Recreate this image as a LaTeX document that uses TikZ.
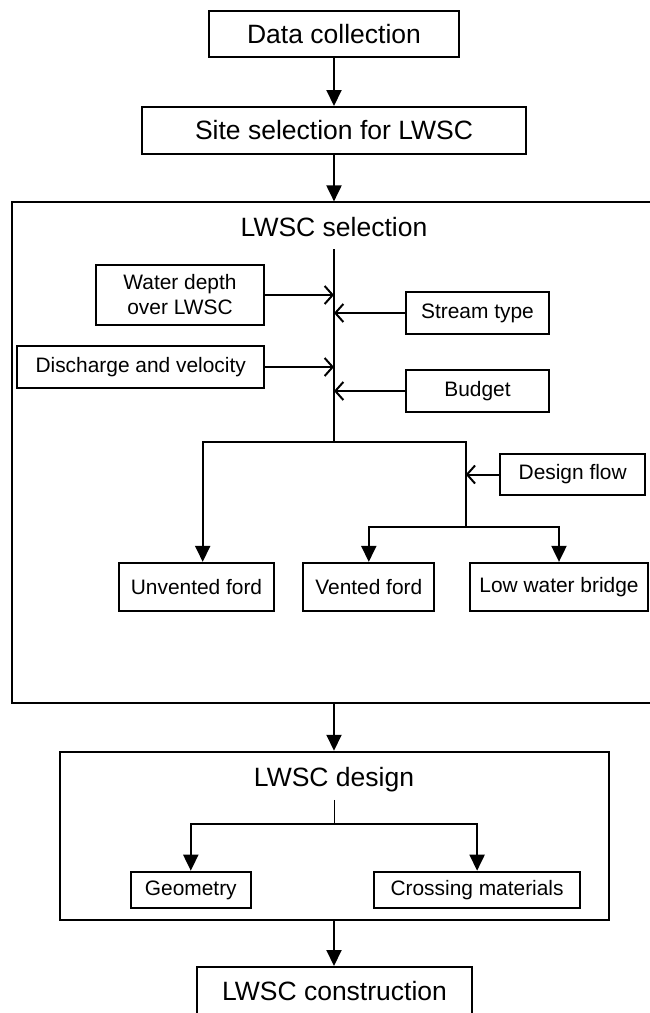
\documentclass[tikz,border=0pt]{standalone}
\usepackage{fontspec}
\setmainfont{Liberation Sans}
\usetikzlibrary{arrows.meta}

\begin{document}
\begin{tikzpicture}[x=1pt,y=-1pt,
  box/.style={draw,line width=2pt,inner sep=0pt,align=center,font=\fontsize{20.9}{25}\selectfont},
  bigbox/.style={draw,line width=2pt,inner sep=0pt,font=\fontsize{26.5}{30}\selectfont},
  title/.style={inner sep=0pt,anchor=base,font=\fontsize{26.5}{30}\selectfont},
  link/.style={line width=2pt},
  flow/.style={line width=2pt,-{Triangle[length=16pt,width=15pt]}},
  feed/.style={line width=2pt,-{Straight Barb[length=8pt,width=18pt]}}]
  \useasboundingbox (0,0) rectangle (649,1013);

  % top of the chain
  \node[bigbox,minimum width=250pt,minimum height=46pt] (data) at (334,34) {Data collection};
  \node[bigbox,minimum width=384pt,minimum height=47pt] (site) at (334,130.5) {Site selection for LWSC};

  % selection frame
  \node[draw,line width=2pt,minimum width=640pt,minimum height=501pt] (selbox) at (331.9,452.9) {};
  \node[title] (seltitle) at (334,236.5) {LWSC selection};
  \coordinate (trunktop) at (334,249);
  \coordinate (fork) at (334,442);

  \node[box,minimum width=168pt,minimum height=60pt] (water) at (180,295) {Water depth\\over LWSC};
  \node[box,minimum width=143.6pt,minimum height=42.3pt] (stream) at (477.5,313) {Stream type};
  \node[box,minimum width=246.7pt,minimum height=42.3pt] (discharge) at (140.7,367) {Discharge and velocity};
  \node[box,minimum width=143.6pt,minimum height=42pt] (budget) at (477.5,391) {Budget};
  \node[box,minimum width=144.7pt,minimum height=41pt] (designflow) at (572.7,474.5) {Design flow};

  \node[box,minimum width=155.6pt,minimum height=48.3pt] (unvented) at (196.5,587) {Unvented ford};
  \node[box,minimum width=131pt,minimum height=48.3pt] (vented) at (368.8,587) {Vented ford};
  \node[box,minimum width=178.6pt,minimum height=48.3pt] (lowbridge) at (559,587) {Low water bridge};

  \coordinate (lbr) at (202.7,442);
  \coordinate (rbr) at (465.7,442);
  \coordinate (sub) at (465.7,526.7);

  % design frame
  \node[draw,line width=2pt,minimum width=548.7pt,minimum height=168.3pt] (designbox) at (334.3,835.9) {};
  \node[title] (designtitle) at (334,786.2) {LWSC design};
  \coordinate (dfork) at (334,824);
  \node[box,minimum width=120.3pt,minimum height=36.6pt] (geometry) at (190.8,890) {Geometry};
  \node[box,minimum width=205.7pt,minimum height=36.6pt] (materials) at (477.1,890) {Crossing materials};

  \node[bigbox,minimum width=274.4pt,minimum height=48pt] (construct) at (334.5,991) {LWSC construction};

  % connectors
  \draw[flow] (data) -- (site);
  \draw[flow] (site.south) -- (site.south |- selbox.north);
  \draw[link] (trunktop) -- (fork);
  \draw[feed] (water.east) -- (water.east -| fork);
  \draw[feed] (stream.west) -- (stream.west -| fork);
  \draw[feed] (discharge.east) -- (discharge.east -| fork);
  \draw[feed] (budget.west) -- (budget.west -| fork);
  \draw[flow] (sub) -- (rbr) -- (lbr) -- (lbr |- unvented.north);
  \draw[feed] (designflow.west) -- (designflow.west -| sub);
  \draw[flow] (sub) -| (vented.north);
  \draw[flow] (sub) -| (lowbridge.north);
  \draw[flow] (selbox.south -| fork) -- (designbox.north -| fork);
  \draw[line width=0.8pt] ([yshift=-8pt]designtitle.south) -- (dfork);
  \draw[flow] (dfork) -| (geometry.north);
  \draw[flow] (dfork) -| (materials.north);
  \draw[flow] (designbox.south -| fork) -- (construct.north -| fork);
\end{tikzpicture}
\end{document}
